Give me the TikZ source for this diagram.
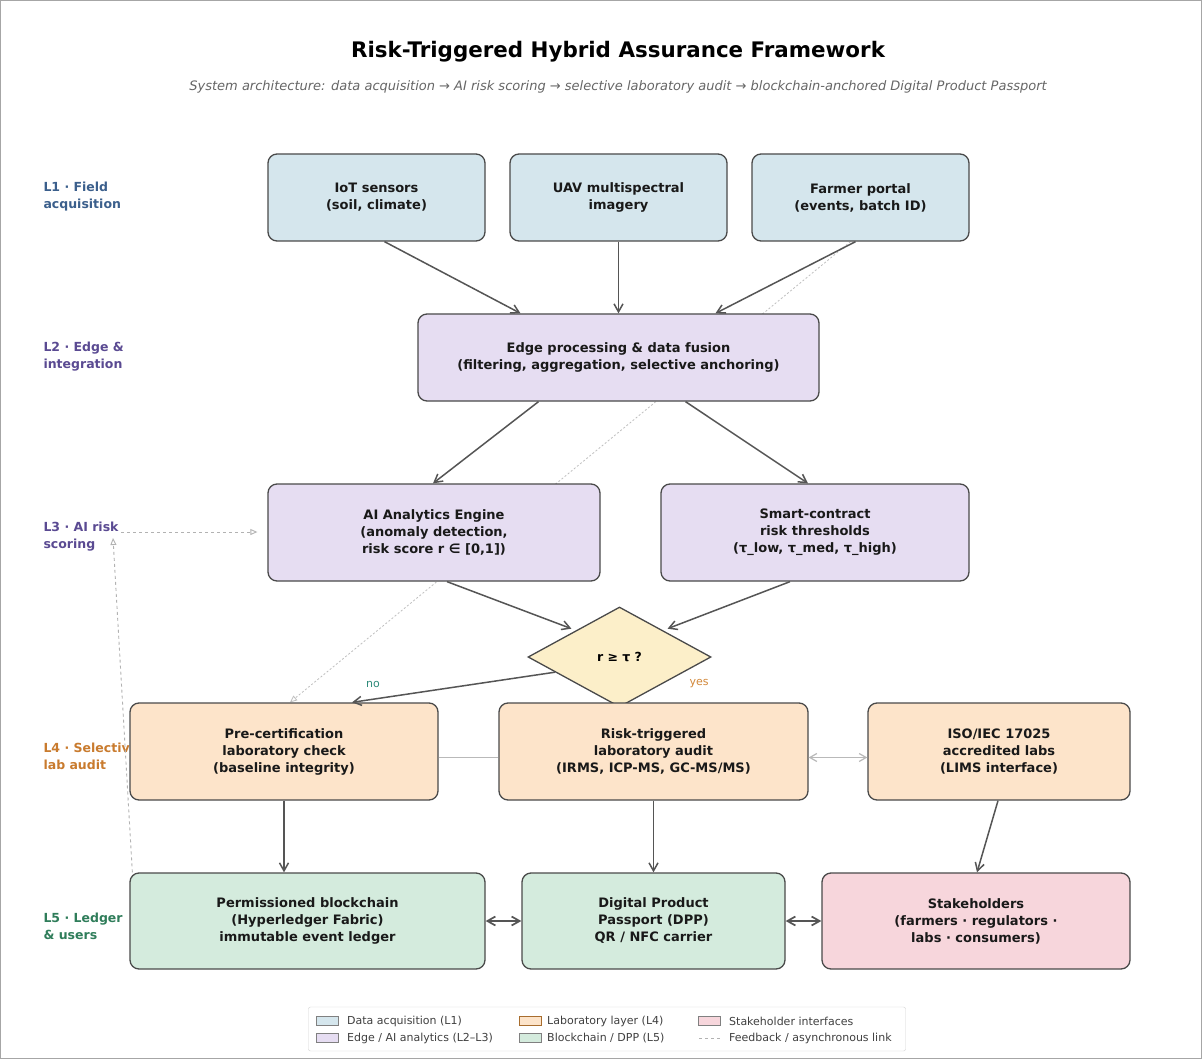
\documentclass[tikz,border=0pt]{standalone}
\usepackage{fontspec}
\setmainfont{DejaVu Sans}
\usetikzlibrary{shapes.geometric,arrows.meta,calc}
\pgfdeclarelayer{background}
\pgfdeclarelayer{canvas}
\pgfsetlayers{canvas,background,main}
\definecolor{cLone}{HTML}{D5E6ED}
\definecolor{cLtwo}{HTML}{E6DDF2}
\definecolor{cLfour}{HTML}{FDE4CA}
\definecolor{cLfive}{HTML}{D4EBDD}
\definecolor{cpink}{HTML}{F7D6DC}
\definecolor{cdia}{HTML}{FCEFC9}
\definecolor{bordergray}{HTML}{4A4A4A}
\definecolor{arrowgray}{HTML}{555555}
\definecolor{labA}{HTML}{3B5F8C}
\definecolor{labB}{HTML}{5A4A92}
\definecolor{labD}{HTML}{C97B2E}
\definecolor{labE}{HTML}{2F7D5A}
\definecolor{noc}{HTML}{2E8B7A}
\definecolor{yesc}{HTML}{D2883A}
\begin{document}
\begin{tikzpicture}[x=1pt,y=-1pt,
  box/.style={draw=bordergray, line width=1.3pt, rounded corners=9pt, align=center,
    font=\bfseries\fontsize{13}{17}\selectfont, text=black!90, inner sep=0pt},
  lay/.style={anchor=west, align=left, font=\bfseries\fontsize{12.5}{17}\selectfont},
  arr/.style={-{Straight Barb[length=8pt,width=9pt]}, line width=1.5pt, draw=arrowgray},
  darr/.style={{Straight Barb[length=8pt,width=9pt]}-{Straight Barb[length=8pt,width=9pt]}, line width=1.7pt, draw=arrowgray},
  lightarr/.style={{Straight Barb[length=7pt,width=8pt]}-{Straight Barb[length=7pt,width=8pt]}, line width=1.2pt, draw=gray!55},
  feedback/.style={-{Triangle[open,length=7pt,width=6pt]}, dashed, line width=0.9pt, draw=gray!60},
  async/.style={-{Triangle[open,length=7pt,width=6pt]}, dash pattern=on 2pt off 2pt, line width=0.8pt, draw=gray!50},
  swatch/.style={draw=gray, line width=0.6pt, minimum width=22pt, minimum height=9pt, inner sep=0pt},
  legtext/.style={anchor=west, font=\fontsize{11}{12}\selectfont, text=black!75, inner sep=0pt}
]
\useasboundingbox (0,0) rectangle (1202,1059);
\begin{pgfonlayer}{canvas}
\fill[white] (0,0) rectangle (1202,1059);
\end{pgfonlayer}
\draw[gray!70, line width=1pt] (0.5,0.5) rectangle (1201.5,1058.5);

% title
\node[font=\bfseries\fontsize{21.4}{24}\selectfont] (title) at (618,52) {Risk-Triggered Hybrid Assurance Framework};
\node[font=\itshape\fontsize{13}{15}\selectfont, text=black!60] (subtitle) at (618,87) {System architecture: data acquisition → AI risk scoring → selective laboratory audit → blockchain-anchored Digital Product Passport};

% layer labels
\node[lay, text=labA] (l1) at (40,197) {L1 · Field\\acquisition};
\node[lay, text=labB] (l2) at (40,357) {L2 · Edge \&\\integration};
\node[lay, text=labB] (l3) at (40,537) {L3 · AI risk\\scoring};
\node[lay, text=labD] (l4) at (40,756) {L4 · Selective\\lab audit};
\node[lay, text=labE] (l5) at (40,926) {L5 · Ledger\\\& users};

% L1
\node[box, fill=cLone, minimum width=217pt, minimum height=87pt] (iot) at (376.5,197.5) {IoT sensors\\(soil, climate)};
\node[box, fill=cLone, minimum width=217pt, minimum height=87pt] (uav) at (618.5,197.5) {UAV multispectral\\imagery};
\node[box, fill=cLone, minimum width=217pt, minimum height=87pt] (farmer) at (860.5,197.5) {Farmer portal\\(events, batch ID)};
% L2
\node[box, fill=cLtwo, minimum width=401pt, minimum height=87pt] (edge) at (618.5,357.5) {Edge processing \& data fusion\\(filtering, aggregation, selective anchoring)};
% L3
\node[box, fill=cLtwo, minimum width=332pt, minimum height=97pt] (ai) at (434,532.5) {AI Analytics Engine\\(anomaly detection,\\risk score r ∈ [0,1])};
\node[box, fill=cLtwo, minimum width=308pt, minimum height=97pt] (smart) at (815,532.5) {Smart-contract\\risk thresholds\\(τ\_low, τ\_med, τ\_high)};
% decision
\node[diamond, draw=bordergray, line width=1.3pt, fill=cdia, minimum width=183pt, minimum height=100pt, inner sep=0pt, font=\bfseries\fontsize{12.5}{14}\selectfont] (dia) at (619.5,657) {r ≥ τ ?};
% L4
\node[box, fill=cLfour, minimum width=308pt, minimum height=97pt] (pre) at (284,751.5) {Pre-certification\\laboratory check\\(baseline integrity)};
\node[box, fill=cLfour, minimum width=309pt, minimum height=97pt] (risk) at (653.5,751.5) {Risk-triggered\\laboratory audit\\(IRMS, ICP-MS, GC-MS/MS)};
\node[box, fill=cLfour, minimum width=262pt, minimum height=97pt] (iso) at (999,751.5) {ISO/IEC 17025\\accredited labs\\(LIMS interface)};
% L5
\node[box, fill=cLfive, minimum width=355pt, minimum height=96pt] (bc) at (307.5,921) {Permissioned blockchain\\(Hyperledger Fabric)\\immutable event ledger};
\node[box, fill=cLfive, minimum width=263pt, minimum height=96pt] (dpp) at (653.5,921) {Digital Product\\Passport (DPP)\\QR / NFC carrier};
\node[box, fill=cpink, minimum width=308pt, minimum height=96pt] (stake) at (976,921) {Stakeholders\\(farmers · regulators ·\\labs · consumers)};

% background connector (behind boxes)
\begin{pgfonlayer}{background}
\draw[async] ([xshift=-10pt]farmer.south) -- ([xshift=6pt]pre.north);
\end{pgfonlayer}

% main connectors
\draw[arr] ([xshift=8pt]iot.south) -- ([xshift=-98pt]edge.north);
\draw[arr] (uav.south) -- (edge.north);
\draw[arr] ([xshift=-5pt]farmer.south) -- ([xshift=97pt]edge.north);
\draw[arr] ([xshift=-80pt]edge.south) -- ([xshift=-1pt]ai.north);
\draw[arr] ([xshift=67pt]edge.south) -- ([xshift=-7pt]smart.north);
\draw[arr] ([xshift=13pt]ai.south) -- ([xshift=-2pt,yshift=3pt]dia.north west);
\draw[arr] ([xshift=-25pt]smart.south) -- ([xshift=2pt,yshift=3pt]dia.north east);
\draw[arr] ($(dia.west)!0.3!(dia.south)$) -- ([xshift=68pt]pre.north);
\draw[arr] (pre.south) -- (pre.south |- bc.north);
\draw[arr] (risk.south) -- (dpp.north);
\draw[arr] ([xshift=-1pt]iso.south) -- ([xshift=1pt]stake.north);
\draw[darr] (bc.east) -- (dpp.west);
\draw[darr] (dpp.east) -- (stake.west);
\draw[gray!55, line width=1.2pt] ([yshift=-6pt]pre.east) -- ([yshift=-6pt]risk.west);
\draw[lightarr] ([yshift=-6pt]risk.east) -- ([yshift=-6pt]iso.west);

\node[font=\fontsize{11}{12}\selectfont, text=noc] (nolab) at (373,684) {no};
\node[font=\fontsize{11}{12}\selectfont, text=yesc] (yeslab) at (699,684) {yes};

% feedback
\coordinate (fbtop) at (113,538);
\coordinate (fbl3) at (121,532);
\draw[feedback] ([xshift=3pt]bc.north west) -- (fbtop);
\draw[feedback] (fbl3) -- ([xshift=-10pt]ai.west |- fbl3);

% legend
\node[draw=gray!35, fill=white, rounded corners=2pt, minimum width=597pt, minimum height=44pt, inner sep=0pt] (legend) at (607,1029) {};
\node[swatch, fill=cLone] (sw1) at (327,1021) {};
\node[legtext] (lt1) at (347,1021) {Data acquisition (L1)};
\node[swatch, fill=cLtwo] (sw2) at (327,1038) {};
\node[legtext] (lt2) at (347,1038) {Edge / AI analytics (L2–L3)};
\node[swatch, fill=cLfour, draw=yesc!80!black] (sw3) at (530,1021) {};
\node[legtext] (lt3) at (547,1021) {Laboratory layer (L4)};
\node[swatch, fill=cLfive] (sw4) at (530,1038) {};
\node[legtext] (lt4) at (547,1038) {Blockchain / DPP (L5)};
\node[swatch, fill=cpink] (sw5) at (709,1021) {};
\node[legtext] (lt5) at (729,1021) {Stakeholder interfaces};
\coordinate (dl1) at (699,1038);
\coordinate (dl2) at (720,1038);
\draw[dashed, gray!60, line width=0.8pt] (dl1) -- (dl2);
\node[legtext] (lt6) at (729,1038) {Feedback / asynchronous link};
\end{tikzpicture}
\end{document}
